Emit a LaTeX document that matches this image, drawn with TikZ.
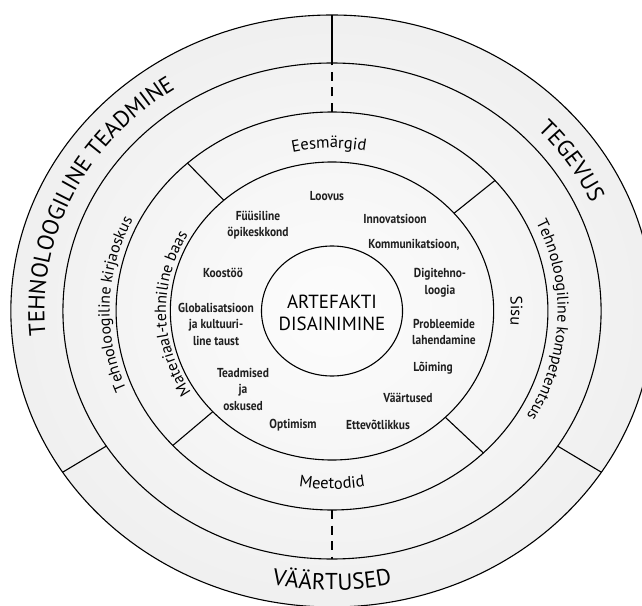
\documentclass[tikz,border=0pt]{standalone}
\usepackage{fontspec}
\setmainfont{PT Sans}
\newfontfamily\condsans[FakeStretch=0.88]{PT Sans}
\usetikzlibrary{decorations.text}

\tikzset{
  ring/.style={line width=1.1pt},
  dashdiv/.style={line width=1.1pt, dash pattern=on 9pt off 6.5pt},
  item/.style={font=\condsans\bfseries\fontsize{13}{16.5}\selectfont, align=center, text=black!88, inner sep=1pt},
  bigarc/.style={decorate, decoration={text along path, text align=center,
      text={|\fontsize{23}{23}\selectfont|#1}}},
  midarc/.style={decorate, decoration={text along path, text align=center,
      text={|\fontsize{16}{16}\selectfont|#1}}},
  smallarc/.style={decorate, decoration={text along path, text align=center,
      text={|\fontsize{16.5}{16.5}\selectfont|#1}}},
}

\begin{document}
\begin{tikzpicture}[x=1.085pt, y=1pt]
  \useasboundingbox (-306,-294) rectangle (285.7,311);

  % background of the disc
  \shade[inner color=black!1, outer color=black!6] (0,0) circle (296);

  % rings
  \foreach \r in {296,248,199,149,65}
    \draw[ring] (0,0) circle (\r);

  % dividers
  \draw[ring] (90:248) -- (90:296);
  \foreach \a in {-33,213}
    \draw[ring] (\a:248) -- (\a:296);
  \foreach \a in {90,270}
    \draw[dashdiv] (\a:199) -- (\a:248);
  \foreach \a in {41,132,222.5,-45.5}
    \draw[ring] (\a:149) -- (\a:199);

  % outer ring
  \path[bigarc={TEHNOLOOGILINE TEADMINE}] (215:265) arc[start angle=215, end angle=95, radius=265];
  \path[bigarc={TEGEVUS}] (63.5:262) arc[start angle=63.5, end angle=3.5, radius=262];
  \path[bigarc={VÄÄRTUSED}] (240:279) arc[start angle=240, end angle=300, radius=279];

  % second ring
  \path[midarc={Tehnoloogiline kirjaoskus}] (230:205) arc[start angle=230, end angle=126, radius=205];
  \path[midarc={Tehnoloogiline kompetentsus}] (50:208) arc[start angle=50, end angle=-55, radius=208];

  % third ring
  \path[smallarc={Eesmärgid}] (121:163) arc[start angle=121, end angle=61, radius=163];
  \path[smallarc={Sisu}] (30:165) arc[start angle=30, end angle=-30, radius=165];
  \path[smallarc={Meetodid}] (240:178) arc[start angle=240, end angle=300, radius=178];
  \path[midarc={Materiaal-tehniline baas}] (236:153) arc[start angle=236, end angle=126, radius=153];

  % centre
  \node[align=center, font=\fontsize{19}{22}\selectfont] (core) at (0,-2) {ARTEFAKTI\\DISAINIMINE};

  % inner ring items
  \node[item] (loovus) at (-4.6,115) {Loovus};
  \node[item] (fyys) at (-68.2,86) {Füüsiline\\öpikeskkond};
  \node[item] (innov) at (58.1,92) {Innovatsioon};
  \node[item] (komm) at (75.6,66) {Kommunikatsioon,};
  \node[item] (koos) at (-100.5,38) {Koostöö};
  \node[item] (digi) at (99.5,28) {Digitehno-\\loogia};
  \node[item] (glob) at (-106.9,-13) {Globalisatsioon\\ja kultuuri-\\line taust};
  \node[item] (probl) at (103.2,-21) {Probleemide\\lahendamine};
  \node[item] (teadm) at (-82,-78) {Teadmised\\ja\\oskused};
  \node[item] (loim) at (93.1,-57) {Lõiming};
  \node[item] (vaart) at (70,-87) {Väärtused};
  \node[item] (optim) at (-35.9,-114) {Optimism};
  \node[item] (ettev) at (42.4,-114) {Ettevõtlikkus};
\end{tikzpicture}
\end{document}
